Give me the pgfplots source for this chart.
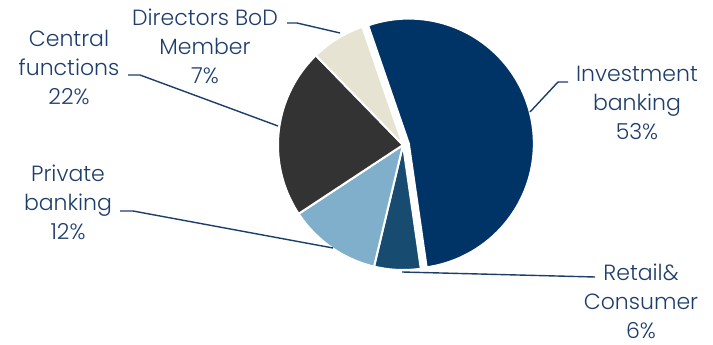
\documentclass[border=0pt]{standalone}
\usepackage{pgfplots}
\usepackage{pgfplotstable}
\pgfplotsset{compat=1.18}
\usepackage{fontspec}
\setmainfont{Poppins Light}
\definecolor{invcol}{HTML}{003366}
\definecolor{retcol}{HTML}{174B6F}
\definecolor{pricol}{HTML}{80AFCC}
\definecolor{cencol}{HTML}{333333}
\definecolor{dircol}{HTML}{E7E3D3}
\definecolor{txtcol}{HTML}{1D3D6B}
\pgfplotstableread{
share
53
6
12
22
7
}\piedata
\begin{document}
\begin{tikzpicture}
\pgfplotstablegetelem{0}{share}\of\piedata \let\vA\pgfplotsretval
\pgfplotstablegetelem{1}{share}\of\piedata \let\vB\pgfplotsretval
\pgfplotstablegetelem{2}{share}\of\piedata \let\vC\pgfplotsretval
\pgfplotstablegetelem{3}{share}\of\piedata \let\vD\pgfplotsretval
\pgfplotstablegetelem{4}{share}\of\piedata \let\vE\pgfplotsretval
\pgfmathsetmacro\aA{109}
\pgfmathsetmacro\aB{\aA-3.6*\vA}
\pgfmathsetmacro\aC{\aB-3.6*\vB}
\pgfmathsetmacro\aD{\aC-3.6*\vC}
\pgfmathsetmacro\aE{\aD-3.6*\vD}
\pgfmathsetmacro\aF{\aE-3.6*\vE}
\pgfmathsetmacro\cx{403}
\pgfmathsetmacro\cy{200}
\pgfmathsetmacro\rr{125}
\pgfmathsetmacro\mid{(\aA+\aB)/2}
\pgfmathsetmacro\ex{\cx+6*cos(\mid)}
\pgfmathsetmacro\ey{\cy+6*sin(\mid)}
\begin{axis}[hide axis, x=1pt, y=1pt, xmin=0, xmax=713, ymin=0, ymax=345, clip=false]
\addplot[fill=invcol, draw=white, line width=2pt, domain=\aB:\aA, samples=120, variable=\t]
  ({\ex+\rr*cos(t)}, {\ey+\rr*sin(t)}) -- (axis cs:\ex,\ey) -- cycle;
\addplot[fill=retcol, draw=white, line width=2pt, domain=\aC:\aB, samples=30, variable=\t]
  ({\cx+\rr*cos(t)}, {\cy+\rr*sin(t)}) -- (axis cs:\cx,\cy) -- cycle;
\addplot[fill=pricol, draw=white, line width=2pt, domain=\aD:\aC, samples=40, variable=\t]
  ({\cx+\rr*cos(t)}, {\cy+\rr*sin(t)}) -- (axis cs:\cx,\cy) -- cycle;
\addplot[fill=cencol, draw=white, line width=2pt, domain=\aE:\aD, samples=60, variable=\t]
  ({\cx+\rr*cos(t)}, {\cy+\rr*sin(t)}) -- (axis cs:\cx,\cy) -- cycle;
\addplot[fill=dircol, draw=white, line width=2pt, domain=\aF:\aE, samples=30, variable=\t]
  ({\cx+\rr*cos(t)}, {\cy+\rr*sin(t)}) -- (axis cs:\cx,\cy) -- cycle;
% leader lines
\draw[txtcol, line width=1.4pt] (axis cs:568,263) -- (axis cs:558,263) -- (axis cs:530,233);
\draw[txtcol, line width=1.4pt] (axis cs:595,68) -- (axis cs:402,73);
\draw[txtcol, line width=1.4pt] (axis cs:120,134) -- (axis cs:133,134) -- (axis cs:333,97);
\draw[txtcol, line width=1.4pt] (axis cs:128,270) -- (axis cs:140,270) -- (axis cs:278,219);
\draw[txtcol, line width=1.4pt] (axis cs:287,322) -- (axis cs:297,322) -- (axis cs:340,312);
% labels
\tikzset{lab/.style={text=txtcol, align=center, font=\fontsize{22}{29}\selectfont, inner sep=0pt}}
\node[lab] at (axis cs:637,242) {Investment\\banking\\53\%};
\node[lab] at (axis cs:641,44) {Retail\&\\Consumer\\6\%};
\node[lab] at (axis cs:68,143) {Private\\banking\\12\%};
\node[lab] at (axis cs:69,278) {Central\\functions\\22\%};
\node[lab] at (axis cs:205,299) {Directors BoD\\Member\\7\%};
\end{axis}
\pgfresetboundingbox
\useasboundingbox (current axis.south west) rectangle (current axis.north east);
\end{tikzpicture}
\end{document}
